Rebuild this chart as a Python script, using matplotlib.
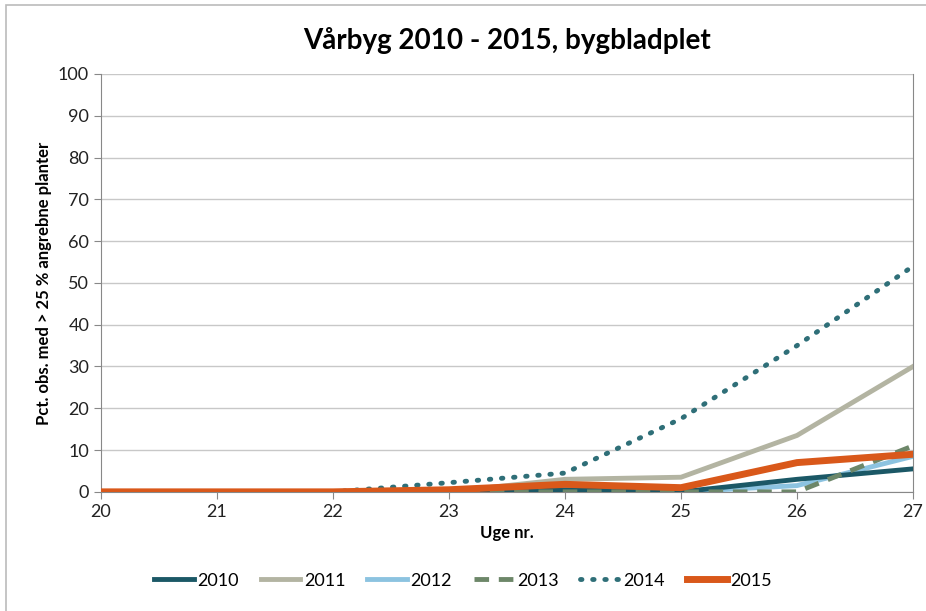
import numpy as np
import matplotlib.pyplot as plt
from matplotlib.patches import Rectangle

plt.rcParams['font.family'] = ['Lato', 'DejaVu Sans']

weeks = [20, 21, 22, 23, 24, 25, 26, 27]
y2010 = [0, 0, 0, 0, 0.5, 0, 3, 5.5]
y2011 = [0, 0, 0, 0, 3, 3.5, 13.5, 30]
y2012 = [0, 0, 0, 0, 0.3, 0, 1.5, 8.5]
y2013 = [0, 0, 0, 0, 0, 0, 0, 11]
y2014 = [0, 0, 0, 2.2, 4.5, 17.5, 35, 54]
y2015 = [0, 0, 0, 0.5, 1.8, 1, 7, 9]

fig = plt.figure(figsize=(9.26, 6.11), dpi=100)
# thin grey frame round the chart, open to the right and bottom
fig.patches.append(Rectangle((6 / 926, -0.1), 1.1, 1 - 5 / 611 + 0.1, transform=fig.transFigure,
                             fill=False, edgecolor='#bbbbbb', lw=1.2))
ax = fig.add_axes([0.109, 0.195, 0.877, 0.684])

ax.plot(weeks, y2011, color='#b3b4a2', lw=3.5, label='2011', zorder=3)
ax.plot(weeks, y2012, color='#8cc3e0', lw=3.5, label='2012', zorder=3)
ax.plot(weeks, y2010, color='#1b5866', lw=3.5, label='2010', zorder=3)
ax.plot(weeks, y2013, color='#6d8769', lw=3.5, ls=(0, (3, 2)), label='2013', zorder=4)
ax.plot(weeks, y2014, color='#2f6f78', lw=3.5, ls=(0, (0.3, 2.2)),
        dash_capstyle='round', label='2014', zorder=4)
ax.plot(weeks, y2015, color='#d9581a', lw=5, label='2015', zorder=5)

ax.set_xlim(20, 27)
ax.set_ylim(0, 100)
ax.set_xticks(weeks)
ax.set_yticks(np.arange(0, 101, 10))
ax.tick_params(labelsize=13, colors='#222222', length=5, color='#888888')
ax.grid(axis='y', color='#c8c8c8', lw=1)
ax.set_axisbelow(True)
ax.spines['top'].set_visible(False)
for s in ['left', 'bottom', 'right']:
    ax.spines[s].set_color('#888888')

ax.set_xlabel('Uge nr.', fontsize=12, fontweight='bold')
ax.set_ylabel('Pct. obs. med > 25 % angrebne planter', fontsize=12, fontweight='bold')
ax.set_title('Vårbyg 2010 - 2015, bygbladplet', fontsize=20, fontweight='bold', pad=18)

h, l = ax.get_legend_handles_labels()
order = ['2010', '2011', '2012', '2013', '2014', '2015']
hd = dict(zip(l, h))
fig.legend([hd[k] for k in order], order, loc='lower center', bbox_to_anchor=(0.5, 0.01),
           ncol=6, frameon=False, fontsize=13, handlelength=2.2, columnspacing=1.2,
           handletextpad=0.2)

fig.savefig('out.png', dpi=100)
